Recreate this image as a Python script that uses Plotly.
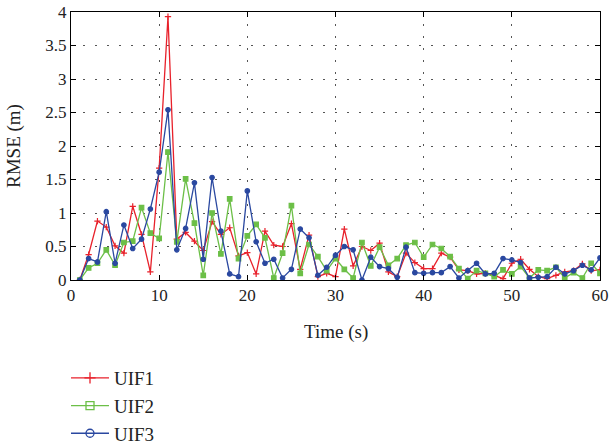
import plotly.graph_objects as go

time = list(range(1, 61))

uif1 = [0.00, 0.38, 0.88, 0.79, 0.51, 0.40, 1.10, 0.68, 0.12, 1.67,
        3.93, 0.61, 0.71, 0.58, 0.44, 0.87, 0.68, 0.78, 0.36, 0.41,
        0.09, 0.73, 0.52, 0.50, 0.84, 0.16, 0.67, 0.05, 0.10, 0.05,
        0.76, 0.21, 0.50, 0.44, 0.55, 0.12, 0.05, 0.40, 0.26, 0.17,
        0.17, 0.40, 0.34, 0.15, 0.14, 0.09, 0.10, 0.07, 0.02, 0.25,
        0.31, 0.16, 0.05, 0.02, 0.07, 0.12, 0.14, 0.24, 0.14, 0.15]

uif2 = [0.00, 0.18, 0.25, 0.45, 0.22, 0.56, 0.58, 1.08, 0.70, 0.62,
        1.91, 0.57, 1.51, 0.85, 0.07, 1.00, 0.39, 1.21, 0.32, 0.66,
        0.83, 0.63, 0.03, 0.40, 1.11, 0.10, 0.53, 0.35, 0.14, 0.32,
        0.16, 0.03, 0.56, 0.21, 0.49, 0.22, 0.32, 0.52, 0.56, 0.34,
        0.53, 0.47, 0.35, 0.17, 0.02, 0.14, 0.10, 0.05, 0.15, 0.09,
        0.20, 0.03, 0.15, 0.14, 0.19, 0.03, 0.11, 0.03, 0.25, 0.10]

uif3 = [0.00, 0.32, 0.27, 1.02, 0.25, 0.82, 0.47, 0.61, 1.06, 1.61,
        2.54, 0.45, 0.77, 1.45, 0.31, 1.53, 0.73, 0.09, 0.05, 1.33,
        0.57, 0.25, 0.31, 0.03, 0.16, 0.76, 0.63, 0.07, 0.19, 0.37,
        0.50, 0.45, 0.00, 0.34, 0.20, 0.17, 0.04, 0.49, 0.11, 0.10,
        0.11, 0.11, 0.20, 0.03, 0.14, 0.25, 0.09, 0.10, 0.32, 0.30,
        0.26, 0.03, 0.04, 0.05, 0.19, 0.09, 0.14, 0.22, 0.15, 0.33]

series_names = ["UIF1", "UIF2", "UIF3"]
x_ticks = [0, 10, 20, 30, 40, 50, 60]
y_ticks = [0, 0.5, 1, 1.5, 2, 2.5, 3, 3.5, 4]
y_tick_labels = ["0", "0.5", "1", "1.5", "2", "2.5", "3", "3.5", "4"]
x_title = "Time (s)"
y_title = "RMSE (m)"

colors = ["#E8212B", "#6CBF47", "#2A48A0"]
plot_symbols = ["cross-thin", "square", "circle"]
legend_symbols = ["cross-thin-open", "square-open", "circle-open"]

FONT = "Liberation Serif, Times New Roman, serif"
TXT = "#222222"

fig = go.Figure()
for name, vals, col, sym in zip(series_names, [uif1, uif2, uif3], colors, plot_symbols):
    fig.add_trace(go.Scatter(
        x=time, y=vals, mode="lines+markers", name=name, showlegend=False,
        line=dict(color=col, width=1.3),
        marker=dict(symbol=sym, size=4.5, color=col, line=dict(color=col, width=1.2)),
    ))
# legend entries
for name, col, sym in zip(series_names, colors, legend_symbols):
    fig.add_trace(go.Scatter(
        x=[None], y=[None], mode="lines+markers", name=name, showlegend=True,
        line=dict(color=col, width=1.3),
        marker=dict(symbol=sym, size=8, color=col, line=dict(color=col, width=1.3)),
    ))

axis_common = dict(
    showline=True, linecolor="black", linewidth=1, mirror="ticks",
    ticks="inside", ticklen=5, tickcolor="black", tickwidth=1,
    showgrid=True, gridcolor="#555555", gridwidth=1, griddash="2px,10px",
    zeroline=False, automargin=False,
    tickfont=dict(family=FONT, size=17, color=TXT),
)

fig.update_xaxes(range=[0, 60], tickmode="array", tickvals=x_ticks, **axis_common)
fig.update_yaxes(range=[0, 4], tickmode="array", tickvals=y_ticks,
                 ticktext=y_tick_labels, **axis_common)

fig.add_annotation(
    text=x_title, xref="paper", yref="paper", x=0.5, y=-(332 - 280) / 268,
    yanchor="middle", xanchor="center", showarrow=False,
    font=dict(family=FONT, size=19, color=TXT),
)
fig.add_annotation(
    text=y_title, xref="paper", yref="paper", x=-(71 - 14) / 529, y=0.5,
    xanchor="center", yanchor="middle", textangle=-90, showarrow=False,
    font=dict(family=FONT, size=19, color=TXT),
)

fig.update_layout(
    width=610, height=445,
    margin=dict(l=71, r=10, t=12, b=165, autoexpand=False),
    paper_bgcolor="white", plot_bgcolor="white",
    font=dict(family=FONT, color=TXT),
    legend=dict(
        x=66 / 610, xref="container", xanchor="left",
        y=(445 - 359) / 445, yref="container", yanchor="top",
        font=dict(family=FONT, size=19, color=TXT),
        itemwidth=38, bgcolor="rgba(0,0,0,0)",
        tracegroupgap=0,
    ),
    showlegend=True,
)

fig.write_html(
    "out.html",
    config={"displayModeBar": False},
    post_script="document.body.style.margin='0';document.body.style.overflow='hidden';",
)
